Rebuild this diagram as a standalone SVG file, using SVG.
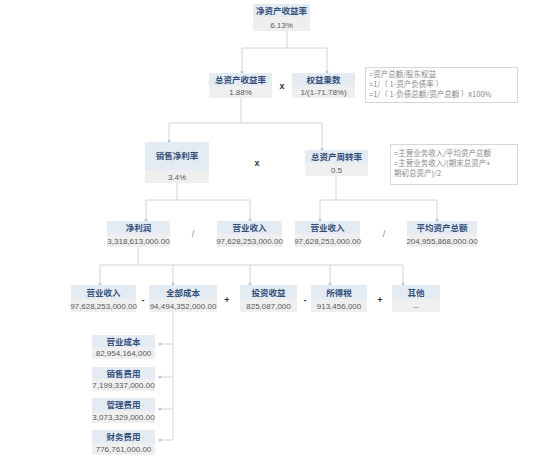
<svg xmlns="http://www.w3.org/2000/svg" width="550" height="462" viewBox="0 0 550 462">
<defs>
<style>
.h{fill:#e4ebf2}
.v{fill:#efefef}
.ht{font-family:"Noto Sans CJK SC","Liberation Sans",sans-serif;font-weight:bold;font-size:8.5px;fill:#34507a;text-anchor:middle}
.vt{font-family:"Liberation Sans","Noto Sans CJK SC",sans-serif;font-size:8px;fill:#5a5a5a;text-anchor:middle}
.op{font-family:"Liberation Sans",sans-serif;font-size:9px;fill:#333;text-anchor:middle;font-weight:bold}
.sl{font-family:"Liberation Sans",sans-serif;font-size:9px;fill:#888;text-anchor:middle}
.note{fill:#fff;stroke:#d6d6d6;stroke-width:1}
.nt{font-family:"Noto Sans CJK SC","Liberation Sans",sans-serif;font-size:7.5px;fill:#888}
.c{fill:none;stroke:#d0d4d8;stroke-width:1}
</style>
<marker id="d" markerWidth="4" markerHeight="4" refX="2" refY="2" markerUnits="userSpaceOnUse"><circle cx="2" cy="2" r="1.5" fill="#c0c6cc"/></marker>
</defs>
<rect width="550" height="462" fill="#fff"/>
<g id="connectors">
<path class="c" d="M287 31V48M242 48H327M242 48V72" marker-end="url(#d)"/>
<path class="c" d="M327 48V72" marker-end="url(#d)"/>
<path class="c" d="M241 98V123M169 123H322M169 123V141" marker-end="url(#d)"/>
<path class="c" d="M322 123V149" marker-end="url(#d)"/>
<path class="c" d="M177 183V200M146 200H250M146 200V220" marker-end="url(#d)"/>
<path class="c" d="M250 200V220" marker-end="url(#d)"/>
<path class="c" d="M336 176V200M320 200H437M320 200V220" marker-end="url(#d)"/>
<path class="c" d="M437 200V220" marker-end="url(#d)"/>
<path class="c" d="M138 247V265M100 265H403M100 265V284" marker-end="url(#d)"/>
<path class="c" d="M173 265V284" marker-end="url(#d)"/>
<path class="c" d="M250 265V284" marker-end="url(#d)"/>
<path class="c" d="M330 265V284" marker-end="url(#d)"/>
<path class="c" d="M403 265V284" marker-end="url(#d)"/>
<path class="c" d="M173 312V440"/>
<path class="c" d="M173 344H160" marker-end="url(#d)"/>
<path class="c" d="M173 377H160" marker-end="url(#d)"/>
<path class="c" d="M173 409H160" marker-end="url(#d)"/>
<path class="c" d="M173 440H160" marker-end="url(#d)"/>
</g>
<g id="n_roe"><rect class="h" x="253" y="4" width="57" height="13"/><rect class="v" x="253" y="17" width="57" height="14"/><text class="ht" x="281.5" y="14">净资产收益率</text><text class="vt" x="281.5" y="27.5">6.13%</text></g>
<g id="n_roa"><rect class="h" x="209" y="73" width="63" height="13"/><rect class="v" x="209" y="86" width="63" height="12"/><text class="ht" x="240.5" y="83">总资产收益率</text><text class="vt" x="240.5" y="95">1.88%</text></g>
<text class="op" x="282" y="89">x</text>
<g id="n_em"><rect class="h" x="292" y="73" width="63" height="13"/><rect class="v" x="292" y="86" width="63" height="12"/><text class="ht" x="323.5" y="83">权益乘数</text><text class="vt" x="323.5" y="95">1/(1-71.78%)</text></g>
<g id="note1"><rect class="note" x="365.5" y="67.5" width="152" height="35"/><text class="nt" x="369" y="77">=资产总额/股东权益</text><text class="nt" x="369" y="87">=1/（ 1-资产负债率 ）</text><text class="nt" x="369" y="97">=1/（ 1-负债总额/资产总额 ）x100%</text></g>
<g id="n_npm"><rect class="h" x="145" y="142" width="64" height="28"/><rect class="v" x="145" y="170" width="64" height="13"/><text class="ht" x="177" y="159">销售净利率</text><text class="vt" x="177" y="180">3.4%</text></g>
<text class="op" x="257" y="166">x</text>
<g id="n_at"><rect class="h" x="305" y="150" width="63" height="13"/><rect class="v" x="305" y="163" width="63" height="13"/><text class="ht" x="336.5" y="160">总资产周转率</text><text class="vt" x="336.5" y="173">0.5</text></g>
<g id="note2"><rect class="note" x="390.5" y="144.5" width="127" height="40"/><text class="nt" x="394" y="156">=主营业务收入/平均资产总额</text><text class="nt" x="394" y="166">=主营业务收入/(期末总资产+</text><text class="nt" x="394" y="176">期初总资产)/2</text></g>
<g id="n_np"><rect class="h" x="107" y="221" width="63" height="13"/><rect class="v" x="107" y="234" width="63" height="13"/><text class="ht" x="138.5" y="231">净利润</text><text class="vt" x="138.5" y="244">3,318,613,000.00</text></g>
<text class="sl" x="193" y="237">/</text>
<g id="n_rev1"><rect class="h" x="217" y="221" width="65" height="13"/><rect class="v" x="217" y="234" width="65" height="13"/><text class="ht" x="249.5" y="231">营业收入</text><text class="vt" x="249.5" y="244">97,628,253,000.00</text></g>
<g id="n_rev2"><rect class="h" x="295" y="221" width="65" height="13"/><rect class="v" x="295" y="234" width="65" height="13"/><text class="ht" x="327.5" y="231">营业收入</text><text class="vt" x="327.5" y="244">97,628,253,000.00</text></g>
<text class="sl" x="384" y="237">/</text>
<g id="n_avg"><rect class="h" x="407" y="221" width="70" height="13"/><rect class="v" x="407" y="234" width="70" height="13"/><text class="ht" x="442" y="231">平均资产总额</text><text class="vt" x="442" y="244">204,955,868,000.00</text></g>
<g id="n_rev3"><rect class="h" x="71" y="285" width="65" height="14"/><rect class="v" x="71" y="299" width="65" height="13"/><text class="ht" x="103.5" y="295.5">营业收入</text><text class="vt" x="103.5" y="309">97,628,253,000.00</text></g>
<text class="op" x="143" y="303">-</text>
<g id="n_cost"><rect class="h" x="149" y="285" width="68" height="14"/><rect class="v" x="149" y="299" width="68" height="13"/><text class="ht" x="183" y="295.5">全部成本</text><text class="vt" x="183" y="309">94,494,352,000.00</text></g>
<text class="op" x="227" y="303">+</text>
<g id="n_inv"><rect class="h" x="240" y="285" width="57" height="14"/><rect class="v" x="240" y="299" width="57" height="13"/><text class="ht" x="268.5" y="295.5">投资收益</text><text class="vt" x="268.5" y="309">825,087,000</text></g>
<text class="op" x="305" y="303">-</text>
<g id="n_tax"><rect class="h" x="311" y="285" width="56" height="14"/><rect class="v" x="311" y="299" width="56" height="13"/><text class="ht" x="339" y="295.5">所得税</text><text class="vt" x="339" y="309">913,456,000</text></g>
<text class="op" x="380" y="303">+</text>
<g id="n_oth"><rect class="h" x="392" y="285" width="48" height="14"/><rect class="v" x="392" y="299" width="48" height="13"/><text class="ht" x="416" y="295.5">其他</text><text class="vt" x="416" y="309">--</text></g>
<g id="n_oc"><rect class="h" x="92" y="335" width="63" height="12"/><rect class="v" x="92" y="347" width="63" height="12"/><text class="ht" x="123.5" y="344.5">营业成本</text><text class="vt" x="123.5" y="356">82,954,164,000</text></g>
<g id="n_se"><rect class="h" x="92" y="367" width="63" height="12"/><rect class="v" x="92" y="379" width="63" height="12"/><text class="ht" x="123.5" y="376.5">销售费用</text><text class="vt" x="123.5" y="388">7,199,337,000.00</text></g>
<g id="n_ae"><rect class="h" x="92" y="398" width="63" height="13"/><rect class="v" x="92" y="411" width="63" height="12"/><text class="ht" x="123.5" y="408">管理费用</text><text class="vt" x="123.5" y="420">3,073,329,000.00</text></g>
<g id="n_fe"><rect class="h" x="92" y="430" width="63" height="13"/><rect class="v" x="92" y="443" width="63" height="12"/><text class="ht" x="123.5" y="440">财务费用</text><text class="vt" x="123.5" y="452">776,761,000.00</text></g>
</svg>
